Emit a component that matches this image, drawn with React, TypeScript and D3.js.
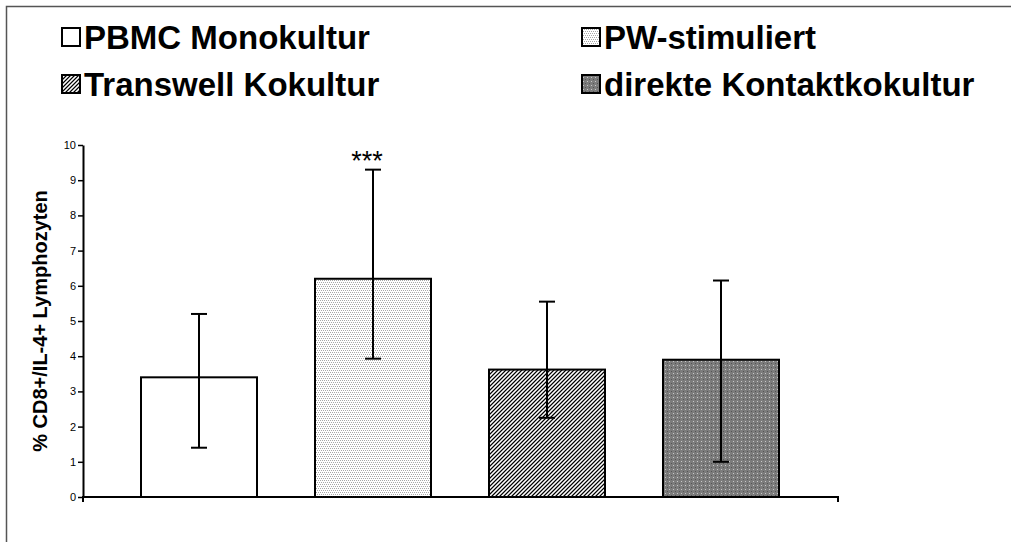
import React, { useEffect, useRef } from "react";
import * as d3 from "d3";

const categories = ["PBMC Monokultur", "PW-stimuliert", "Transwell Kokultur", "direkte Kontaktkokultur"];
const means = [3.4, 6.2, 3.62, 3.9];
const errLow = [1.4, 3.93, 2.25, 1.0];
const errHigh = [5.2, 9.3, 5.55, 6.15];
const marks = ["", "***", "", ""];
const yTickValues = [0, 1, 2, 3, 4, 5, 6, 7, 8, 9, 10];
const patternIds = ["fill-white", "fill-light", "fill-diag", "fill-dots"];

const W = 1011;
const H = 542;

const App = () => {
  const svgRef = useRef<SVGSVGElement | null>(null);

  useEffect(() => {
    const svg = d3.select(svgRef.current);
    svg.selectAll("*").remove();

    const font = "'Liberation Sans', Arial, sans-serif";
    const defs = svg.append("defs");

    const makePattern = (id: string, bg: string) => {
      const p = defs
        .append("pattern")
        .attr("id", id)
        .attr("patternUnits", "userSpaceOnUse")
        .attr("width", 4)
        .attr("height", 4)
        .attr("shape-rendering", "crispEdges");
      p.append("rect").attr("width", 4).attr("height", 4).attr("fill", bg);
      return p;
    };
    const px = (p: any, x: number, y: number, c: string) =>
      p.append("rect").attr("x", x).attr("y", y).attr("width", 1).attr("height", 1).attr("fill", c);

    makePattern("fill-white", "#fff");

    // light dotted
    const pLight = makePattern("fill-light", "#fff");
    [
      [0, 0],
      [2, 0],
      [1, 2],
      [3, 2],
    ].forEach(([x, y]) => px(pLight, x, y, "#a8a8a8"));

    // fine diagonal hatch
    const pDiag = makePattern("fill-diag", "#9a9a9a");
    for (let i = 0; i < 4; i++) {
      px(pDiag, i, 3 - i, "#000");
      px(pDiag, i, (5 - i) % 4, "#fff");
    }

    // gray with dots
    const pDots = makePattern("fill-dots", "#7c7c7c");
    px(pDots, 1, 1, "#c8c8c8");
    px(pDots, 3, 3, "#555");

    svg.append("rect").attr("width", W).attr("height", H).attr("fill", "#fff");

    // outer frame
    svg
      .append("rect")
      .attr("x", 6.5)
      .attr("y", 6.5)
      .attr("width", W + 20)
      .attr("height", H + 20)
      .attr("fill", "none")
      .attr("stroke", "#555")
      .attr("stroke-width", 1.5);

    const x = d3.scaleBand<string>().domain(categories).range([112, 808]).paddingInner(1 / 3).paddingOuter(1 / 6);
    const y = d3.scaleLinear().domain([0, 10]).range([497, 145]);

    const plot = svg.append("g");

    // bars
    plot
      .selectAll("rect.bar")
      .data(categories)
      .join("rect")
      .attr("class", "bar")
      .attr("x", (d) => x(d)!)
      .attr("y", (d, i) => y(means[i]))
      .attr("width", x.bandwidth())
      .attr("height", (d, i) => y(0) - y(means[i]))
      .attr("fill", (d, i) => `url(#${patternIds[i]})`)
      .attr("stroke", "#000")
      .attr("stroke-width", 2);

    // error bars
    const cx = (d: string) => x(d)! + x.bandwidth() / 2;
    plot
      .selectAll("line.err")
      .data(categories)
      .join("line")
      .attr("class", "err")
      .attr("x1", cx)
      .attr("x2", cx)
      .attr("y1", (d, i) => y(errLow[i]))
      .attr("y2", (d, i) => y(errHigh[i]))
      .attr("stroke", "#000")
      .attr("stroke-width", 2);
    [errLow, errHigh].forEach((vals, k) => {
      plot
        .selectAll(`line.cap${k}`)
        .data(categories)
        .join("line")
        .attr("class", `cap${k}`)
        .attr("x1", (d) => cx(d) - 8)
        .attr("x2", (d) => cx(d) + 8)
        .attr("y1", (d, i) => y(vals[i]))
        .attr("y2", (d, i) => y(vals[i]))
        .attr("stroke", "#000")
        .attr("stroke-width", 2);
    });

    // significance marks
    plot
      .selectAll("text.mark")
      .data(categories)
      .join("text")
      .attr("class", "mark")
      .attr("x", (d) => cx(d) - 6)
      .attr("y", (d, i) => y(errHigh[i]))
      .attr("text-anchor", "middle")
      .style("font-family", font)
      .style("font-size", "27px")
      .text((d, i) => marks[i]);

    // y axis
    const yAxis = plot
      .append("g")
      .attr("transform", "translate(83,0)")
      .call(d3.axisLeft(y).tickValues(yTickValues).tickSize(5).tickSizeOuter(0).tickFormat(d3.format("d")));
    yAxis.select(".domain").attr("stroke", "#000").attr("stroke-width", 2);
    yAxis.selectAll(".tick line").attr("stroke", "#000").attr("stroke-width", 1.5);
    yAxis
      .selectAll(".tick text")
      .attr("x", -7)
      .attr("fill", "#000")
      .style("font-family", font)
      .style("font-size", "11px");

    // x axis
    plot
      .append("line")
      .attr("x1", 82)
      .attr("x2", 839)
      .attr("y1", y(0))
      .attr("y2", y(0))
      .attr("stroke", "#000")
      .attr("stroke-width", 2);
    [83, 838].forEach((p) =>
      plot
        .append("line")
        .attr("x1", p)
        .attr("x2", p)
        .attr("y1", y(0))
        .attr("y2", y(0) + 5)
        .attr("stroke", "#000")
        .attr("stroke-width", 2)
    );

    // y title
    svg
      .append("text")
      .attr("transform", `translate(47,${(y(0) + y(10)) / 2}) rotate(-90)`)
      .attr("text-anchor", "middle")
      .style("font-family", font)
      .style("font-weight", "bold")
      .style("font-size", "20px")
      .text("% CD8+/IL-4+ Lymphozyten");

    // legend
    const legendX = [62, 582];
    const legendY = [37, 84];
    const legend = svg
      .append("g")
      .selectAll("g")
      .data(categories)
      .join("g")
      .attr("transform", (d, i) => `translate(${legendX[i % 2]},${legendY[Math.floor(i / 2)]})`);
    legend
      .append("rect")
      .attr("x", 0)
      .attr("y", -9)
      .attr("width", 18)
      .attr("height", 18)
      .attr("fill", (d, i) => `url(#${patternIds[i]})`)
      .attr("stroke", "#000")
      .attr("stroke-width", 2);
    legend
      .append("text")
      .attr("x", 22)
      .attr("y", 12)
      .style("font-family", font)
      .style("font-weight", "bold")
      .style("font-size", "33px")
      .text((d) => d);
  }, []);

  return (
    <svg
      ref={svgRef}
      width={W}
      height={H}
      viewBox={`0 0 ${W} ${H}`}
      style={{ position: "absolute", left: 0, top: 0, display: "block" }}
    />
  );
};

export default App;
